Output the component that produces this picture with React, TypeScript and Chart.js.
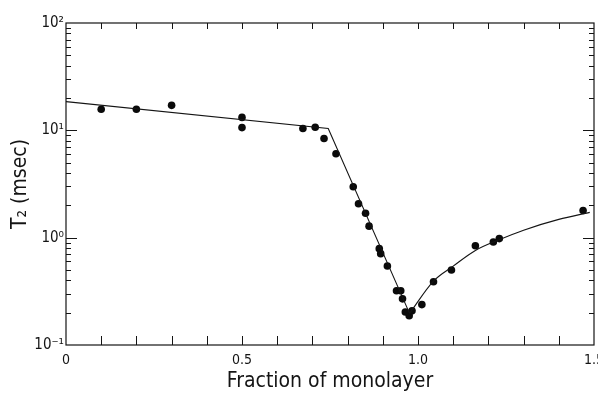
import React, { useEffect, useRef } from 'react';
import { Chart, registerables } from 'chart.js';

Chart.register(...registerables);

// Measured data: fraction of monolayer vs T2 (msec)
const coverage = [0.1, 0.2, 0.3, 0.5, 0.5, 0.673, 0.708, 0.733, 0.767, 0.816, 0.831, 0.851, 0.861, 0.89, 0.894, 0.913, 0.939, 0.951, 0.956, 0.964, 0.975, 0.983, 1.011, 1.044, 1.095, 1.163, 1.214, 1.231, 1.469];
const t2 = [15.7, 15.7, 17.1, 13.2, 10.6, 10.4, 10.7, 8.4, 6.05, 2.98, 2.07, 1.69, 1.28, 0.79, 0.71, 0.545, 0.32, 0.32, 0.269, 0.203, 0.187, 0.208, 0.238, 0.388, 0.499, 0.84, 0.91, 0.98, 1.79];

// Fitted curve: straight segments then a smooth rise
const fitStraightX = [0, 0.745, 0.976];
const fitStraightY = [18.5, 10.4, 0.197];
const fitCurveX = [0.976, 1.044, 1.1, 1.163, 1.23, 1.3, 1.4, 1.488];
const fitCurveY = [0.197, 0.394, 0.543, 0.76, 0.955, 1.175, 1.48, 1.72];

// Axis labels
const xLabelValues = [0, 0.5, 1, 1.5];
const xLabelTexts = ['0', '0.5', '1.0', '1.5'];
const yLabelValues = [0.1, 1, 10, 100];
const yLabelTexts = ['10\u207B\u00B9', '10\u2070', '10\u00B9', '10\u00B2'];
const xTitle = 'Fraction of monolayer';
const yTitle = 'T\u2082 (msec)';

const FONT = "'Liberation Sans Narrow', 'DejaVu Sans Condensed', 'Roboto Condensed', 'Roboto', sans-serif";
const INK = '#141414';

const framePlugin = {
  id: 'frameTicks',
  afterDatasetsDraw(chart: any) {
    const { ctx, chartArea, scales } = chart;
    const { left, right, top, bottom } = chartArea;
    const xs = scales.x;
    const ys = scales.y;
    ctx.save();
    ctx.strokeStyle = INK;
    ctx.lineWidth = 1.2;
    ctx.strokeRect(left, top, right - left, bottom - top);
    ctx.lineWidth = 1;
    ctx.beginPath();
    // x ticks every 0.1
    for (let i = 1; i < 15; i++) {
      const px = Math.round(xs.getPixelForValue(i / 10)) + 0.5;
      ctx.moveTo(px, bottom);
      ctx.lineTo(px, bottom - 9);
      ctx.moveTo(px, top);
      ctx.lineTo(px, top + 6);
    }
    // y log ticks
    for (let d = -1; d < 2; d++) {
      for (let m = 1; m <= 9; m++) {
        const v = m * Math.pow(10, d);
        const py = Math.round(ys.getPixelForValue(v)) + 0.5;
        const len = m === 1 ? 11 : 5;
        if (m === 1 && d === -1) continue;
        ctx.moveTo(left, py);
        ctx.lineTo(left + len, py);
        ctx.moveTo(right, py);
        ctx.lineTo(right - len, py);
      }
    }
    ctx.stroke();
    ctx.restore();
  },
};

export default function App() {
  const ref = useRef<HTMLCanvasElement | null>(null);

  useEffect(() => {
    if (!ref.current) return;
    const points = coverage.map((x, i) => ({ x, y: t2[i] }));
    const straight = fitStraightX.map((x, i) => ({ x, y: fitStraightY[i] }));
    const curve = fitCurveX.map((x, i) => ({ x, y: fitCurveY[i] }));

    const chart = new Chart(ref.current, {
      type: 'scatter',
      data: {
        datasets: [
          {
            data: straight,
            showLine: true,
            borderColor: INK,
            borderWidth: 1.1,
            pointRadius: 0,
            tension: 0,
          },
          {
            data: curve,
            showLine: true,
            borderColor: INK,
            borderWidth: 1.1,
            pointRadius: 0,
            cubicInterpolationMode: 'monotone',
          },
          {
            data: points,
            showLine: false,
            pointRadius: 3.8,
            pointBackgroundColor: '#0a0a0a',
            pointBorderWidth: 0,
          },
        ],
      },
      options: {
        animation: false,
        responsive: true,
        maintainAspectRatio: false,
        layout: { padding: { top: 23, right: 3, left: 0, bottom: 0 } },
        plugins: { legend: { display: false }, tooltip: { enabled: false } },
        scales: {
          x: {
            type: 'linear',
            min: 0,
            max: 1.5,
            grid: { display: false, drawTicks: false },
            border: { display: false },
            afterBuildTicks: (scale: any) => {
              scale.ticks = xLabelValues.map((v) => ({ value: v }));
            },
            ticks: {
              autoSkip: false,
              maxRotation: 0,
              padding: 7,
              color: INK,
              font: { family: FONT, size: 14 },
              callback: (v: any) => {
                const i = xLabelValues.findIndex((x) => Math.abs(x - Number(v)) < 1e-6);
                return i >= 0 ? xLabelTexts[i] : '';
              },
            },
            title: {
              display: true,
              text: xTitle,
              color: INK,
              font: { family: FONT, size: 21 },
              padding: { top: 3, bottom: 0 },
            },
            afterFit: (scale: any) => {
              scale.height = 49;
              scale.paddingLeft = 0;
              scale.paddingRight = 0;
            },
          },
          y: {
            type: 'logarithmic',
            min: 0.1,
            max: 100,
            grid: { display: false, drawTicks: false },
            border: { display: false },
            afterBuildTicks: (scale: any) => {
              scale.ticks = yLabelValues.map((v) => ({ value: v }));
            },
            ticks: {
              autoSkip: false,
              padding: 2,
              color: INK,
              font: { family: FONT, size: 15 },
              callback: (v: any) => {
                const i = yLabelValues.findIndex((x) => Math.abs(Math.log10(x) - Math.log10(Number(v))) < 1e-6);
                return i >= 0 ? yLabelTexts[i] : '';
              },
            },
            title: {
              display: true,
              text: yTitle,
              color: INK,
              font: { family: FONT, size: 21 },
              padding: { top: 8, bottom: 0 },
            },
            afterFit: (scale: any) => {
              scale.width = 66;
              scale.paddingTop = 0;
              scale.paddingBottom = 0;
            },
          },
        },
      },
      plugins: [framePlugin],
    } as any);
    return () => chart.destroy();
  }, []);

  return (
    <div style={{ position: 'absolute', left: 0, top: 0, width: 598, height: 394, background: '#fff' }}>
      <canvas ref={ref} />
    </div>
  );
}
